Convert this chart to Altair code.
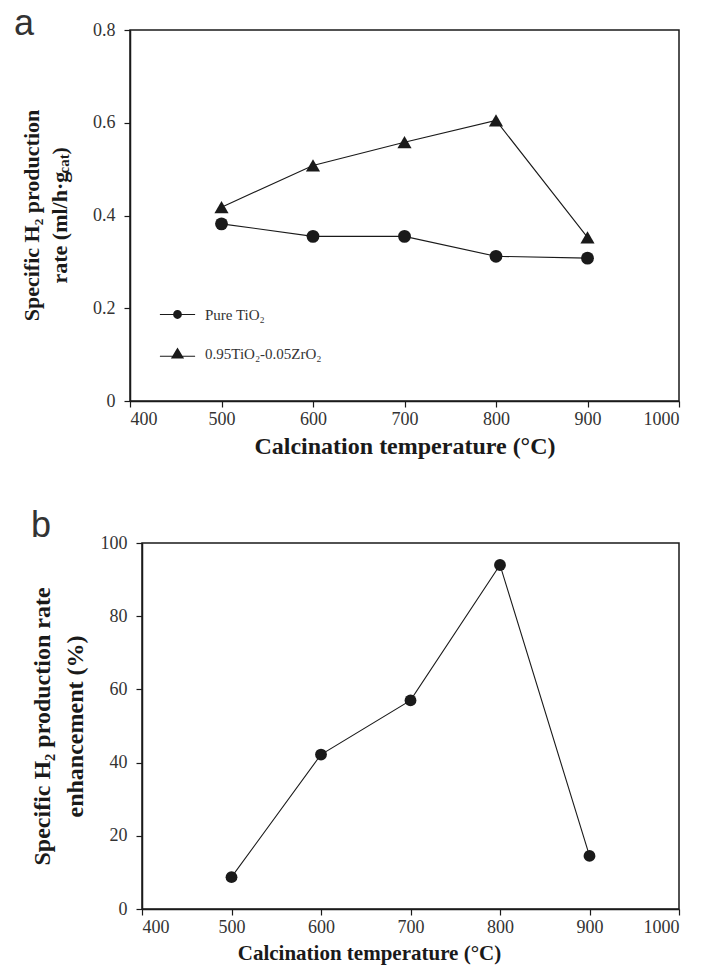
import altair as alt
import pandas as pd

# ---------------- data ----------------
temps = [500, 600, 700, 800, 900]
pure_tio2 = [0.382, 0.355, 0.355, 0.312, 0.308]
tio2_zro2 = [0.418, 0.508, 0.558, 0.605, 0.353]
enhancement = [8.7, 42.2, 57.0, 94.0, 14.5]
series_names = ["Pure TiO₂", "0.95TiO₂-0.05ZrO₂"]
x_ticks = [400, 500, 600, 700, 800, 900, 1000]
ya_ticks = [0, 0.2, 0.4, 0.6, 0.8]
yb_ticks = [0, 20, 40, 60, 80, 100]

SERIF = "Liberation Serif"
SANS = "Liberation Sans"
INK = "#1a1a1a"

df_a = pd.DataFrame({
    "temp": temps + temps,
    "rate": pure_tio2 + tio2_zro2,
    "series": [series_names[0]] * len(temps) + [series_names[1]] * len(temps),
})
df_b = pd.DataFrame({"temp": temps, "enh": enhancement})
one = pd.DataFrame({"k": [0]})

W_A, H_A = 549, 371
W_B, H_B = 537, 366


def vtext(text, x, y, size, align="center", weight="bold"):
    return alt.Chart(one).mark_text(
        text=text, angle=270, font=SERIF, fontWeight=weight, fontSize=size,
        align=align, baseline="middle", color=INK,
    ).encode(x=alt.value(x), y=alt.value(y))


def panel_label(text, x, y):
    return alt.Chart(one).mark_text(
        text=text, font=SANS, fontSize=36, align="left", baseline="alphabetic", color="#333333",
    ).encode(x=alt.value(x), y=alt.value(y))


# ---------------- panel a ----------------
xa = alt.X(
    "temp:Q",
    scale=alt.Scale(domain=[400, 1000], nice=False, zero=False),
    axis=alt.Axis(values=x_ticks, format="d", title="Calcination temperature (°C)",
                  titleFontSize=24, titlePadding=6),
)
ya = alt.Y(
    "rate:Q",
    scale=alt.Scale(domain=[0, 0.8], nice=False),
    axis=alt.Axis(values=ya_ticks, title=None,
                  labelExpr="datum.value == 0 ? '0' : format(datum.value, '.1f')"),
)

lines_a = alt.Chart(df_a).mark_line(color=INK, strokeWidth=1.1).encode(x=xa, y=ya, detail="series:N")
points_a = alt.Chart(df_a).mark_point(filled=True, color=INK, opacity=1).encode(
    x=xa, y=ya,
    shape=alt.Shape("series:N", scale=alt.Scale(domain=series_names, range=["circle", "triangle-up"]),
                    legend=None),
    size=alt.Size("series:N", scale=alt.Scale(domain=series_names, range=[165, 200]), legend=None),
)

# legend symbols: marker with a line through it (line drawn as a thin filled bar)
circ_path = ("M-3.2,-0.1H3.2V0.1H-3.2Z"
             "M0.8,0A0.8,0.8,0,1,1,-0.8,0A0.8,0.8,0,1,1,0.8,0Z")
tri_path = "M-3.2,0.4H3.2V0.6H-3.2ZM0,-1.1L1.2,0.9L-1.2,0.9Z"
legend_a = alt.Chart(df_a).mark_point(filled=True, color=INK, opacity=0, size=121).encode(
    x=xa, y=ya,
    shape=alt.Shape(
        "series:N",
        scale=alt.Scale(domain=series_names, range=[circ_path, tri_path]),
        legend=alt.Legend(
            title=None, orient="none", legendX=40, legendY=277, direction="vertical",
            labelFont=SERIF, labelFontSize=15, labelColor="#333333",
            symbolSize=121, symbolFillColor=INK, symbolStrokeColor=INK,
            symbolStrokeWidth=0, symbolOpacity=1, rowPadding=23, labelOffset=20, padding=0,
        ),
    ),
)

# y-axis title of panel a (with subscripts)
cy = H_A / 2
ytitle_a = alt.layer(
    vtext("Specific H₂ production", -98, cy, 22),
    vtext("rate (ml/h·g", -70, cy + 68, 22, align="left"),
    vtext("cat", -66, cy + 68 - 110, 15, align="left"),
    vtext(")", -70, cy + 68 - 110 - 19, 22, align="left"),
)

panel_a = alt.layer(
    lines_a, points_a, legend_a, ytitle_a, panel_label("a", -116, 5)
).resolve_scale(shape="independent", size="independent").properties(width=W_A, height=H_A)

# ---------------- panel b ----------------
xb = alt.X(
    "temp:Q",
    scale=alt.Scale(domain=[400, 1000], nice=False, zero=False),
    axis=alt.Axis(values=x_ticks, format="d", title="Calcination temperature (°C)",
                  titleFontSize=21, titlePadding=6, titleX=227, titleAlign="center"),
)
yb = alt.Y(
    "enh:Q",
    scale=alt.Scale(domain=[0, 100], nice=False),
    axis=alt.Axis(values=yb_ticks, title=["Specific H₂ production rate", "enhancement (%)"],
                  titleFontSize=24, titleLineHeight=33, titlePadding=13),
)
lines_b = alt.Chart(df_b).mark_line(color=INK, strokeWidth=1.1).encode(x=xb, y=yb)
points_b = alt.Chart(df_b).mark_point(filled=True, color=INK, opacity=1, size=140, shape="circle").encode(x=xb, y=yb)

panel_b = alt.layer(lines_b, points_b, panel_label("b", -111, -6)).properties(width=W_B, height=H_B)

spacer = alt.Chart(one).mark_point(opacity=0).properties(
    width=1, height=1, view=alt.ViewBackground(stroke="transparent")
)

chart = alt.vconcat(
    panel_a,
    alt.hconcat(spacer, panel_b, spacing=11, bounds="flush"),
    spacing=48,
).properties(
    padding={"left": 13, "top": 5, "right": 5, "bottom": 5}
).configure_view(
    stroke=INK, strokeWidth=1.5
).configure_axis(
    domainColor=INK, domainWidth=1.5, tickColor=INK, tickWidth=1.2, tickSize=6,
    labelFont=SERIF, labelFontSize=18, labelColor="#333333", labelPadding=3,
    titleFont=SERIF, titleFontWeight="bold", titleColor=INK, grid=False,
).configure_axisY(
    labelPadding=9
)

chart.save("out.html", embed_options={"renderer": "svg", "actions": False})
